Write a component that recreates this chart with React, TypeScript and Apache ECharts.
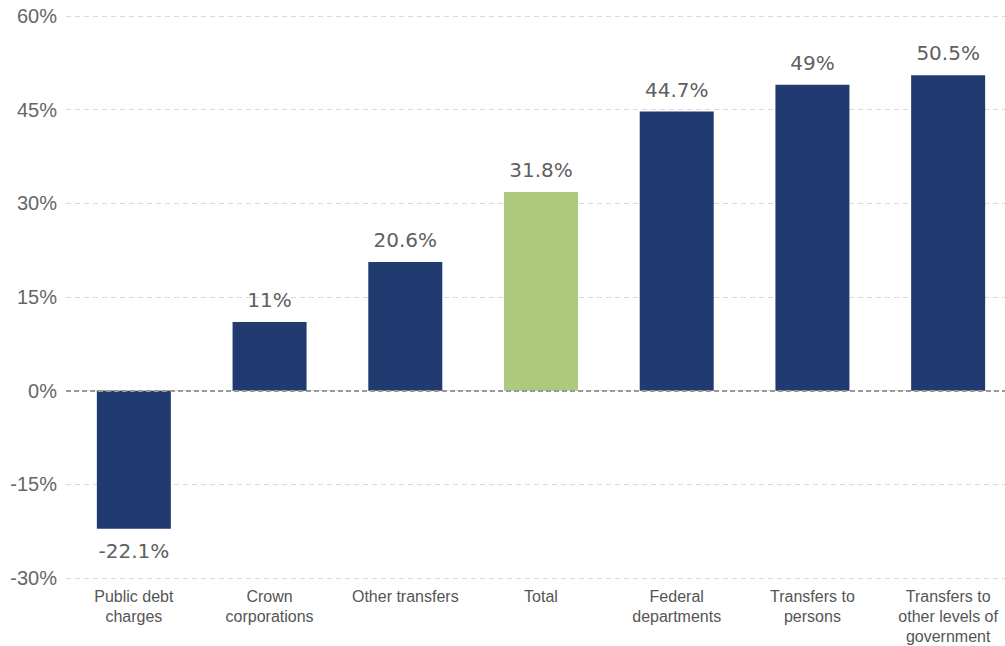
import React, { useEffect, useRef } from "react";
import * as echarts from "echarts";

const categories = [
  "Public debt\ncharges",
  "Crown\ncorporations",
  "Other transfers",
  "Total",
  "Federal\ndepartments",
  "Transfers to\npersons",
  "Transfers to\nother levels of\ngovernment",
];
const values = [-22.1, 11, 20.6, 31.8, 44.7, 49, 50.5];
const highlightCategory = "Total";
const yTicks = { min: -30, max: 60, interval: 15 };

const NAVY = "#213a6f";
const GREEN = "#adc97e";

export default function App() {
  const ref = useRef<HTMLDivElement>(null);
  useEffect(() => {
    if (!ref.current) return;
    document.body.style.overflow = "hidden";
    const chart = echarts.init(ref.current, undefined, { renderer: "svg" });
    chart.setOption({
      animation: false,
      grid: { left: 66, top: 16, width: 950, height: 565, containLabel: false },
      xAxis: {
        type: "category",
        data: categories,
        axisLine: { show: false },
        axisTick: { show: false },
        axisLabel: {
          color: "#555",
          fontFamily: "Liberation Sans, Arial, sans-serif",
          fontSize: 16,
          lineHeight: 20,
          margin: 8,
          interval: 0,
        },
      },
      yAxis: {
        type: "value",
        min: yTicks.min,
        max: yTicks.max,
        interval: yTicks.interval,
        axisLine: { show: false },
        axisTick: { show: false },
        axisLabel: {
          formatter: "{value}%",
          color: "#666",
          fontFamily: "Liberation Sans, Arial, sans-serif",
          fontSize: 20,
          margin: 9,
        },
        splitLine: {
          lineStyle: { color: "#d9d9d9", type: [5, 4], width: 1 },
        },
      },
      series: [
        {
          type: "bar",
          barWidth: 74,
          data: values.map((v, i) => ({
            value: v,
            itemStyle: { color: categories[i] === highlightCategory ? GREEN : NAVY },
            label: { position: v < 0 ? "bottom" : "top" },
          })),
          label: {
            show: true,
            formatter: (p: any) => `${p.value}%`,
            color: "#606060",
            fontFamily: "DejaVu Sans, sans-serif",
            fontSize: 20,
            distance: 12,
          },
          markLine: {
            silent: true,
            symbol: "none",
            label: { show: false },
            lineStyle: { color: "#999", type: [5, 3], width: 2 },
            data: [{ yAxis: 0 }],
          },
        },
      ],
    });
    return () => chart.dispose();
  }, []);
  return (
    <div
      ref={ref}
      style={{ position: "absolute", left: 0, top: 0, width: 1020, height: 646 }}
    />
  );
}
